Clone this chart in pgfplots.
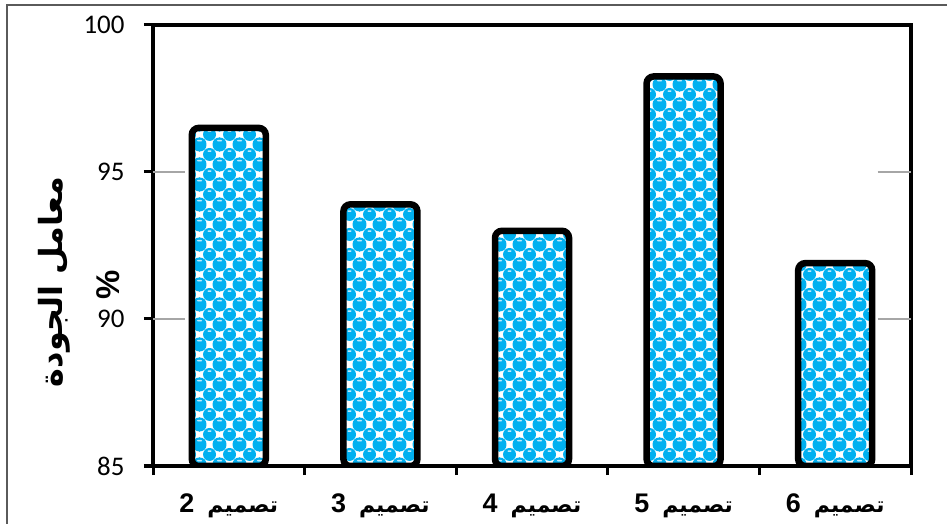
\documentclass[border=0pt]{standalone}
\usepackage{fontspec}
\usepackage{pgfplots}
\pgfplotsset{compat=1.18}
\usetikzlibrary{patterns}
\setmainfont{Carlito}
\newfontfamily\arabicfont[Script=Arabic]{DejaVu Sans}
\newfontfamily\latinbold{Liberation Sans}
\TeXXeTstate=1

\definecolor{dotblue}{RGB}{0,176,240}
\definecolor{dotshine}{RGB}{190,235,252}
\definecolor{gridgray}{RGB}{166,166,166}
\definecolor{framegray}{RGB}{90,90,90}

% staggered blue dots on white, 20bp period
\pgfdeclarepatterninherentlycolored{bluedots}
  {\pgfpointorigin}{\pgfpoint{20bp}{20bp}}{\pgfpoint{20bp}{20bp}}
  {
    \pgfsetfillcolor{white}
    \pgfpathrectangle{\pgfpointorigin}{\pgfpoint{20bp}{20bp}}
    \pgfusepath{fill}
    \pgfsetfillcolor{dotblue}
    \pgfpathcircle{\pgfpoint{10bp}{10bp}}{6.8bp}
    \pgfpathcircle{\pgfpoint{0bp}{0bp}}{6.8bp}
    \pgfpathcircle{\pgfpoint{20bp}{0bp}}{6.8bp}
    \pgfpathcircle{\pgfpoint{0bp}{20bp}}{6.8bp}
    \pgfpathcircle{\pgfpoint{20bp}{20bp}}{6.8bp}
    \pgfusepath{fill}
    \pgfsetfillcolor{dotshine}
    \pgfpathellipse{\pgfpoint{10bp}{13.5bp}}{\pgfpoint{2.2bp}{0bp}}{\pgfpoint{0bp}{0.9bp}}
    \pgfpathellipse{\pgfpoint{0bp}{3.5bp}}{\pgfpoint{2.2bp}{0bp}}{\pgfpoint{0bp}{0.9bp}}
    \pgfpathellipse{\pgfpoint{20bp}{3.5bp}}{\pgfpoint{2.2bp}{0bp}}{\pgfpoint{0bp}{0.9bp}}
    \pgfusepath{fill}
  }

\newcommand{\design}[1]{{\latinbold\bfseries\fontsize{27}{27}\selectfont #1}\hspace{13bp}{\arabicfont\bfseries\fontsize{22}{22}\selectfont\beginR تصميم\endR}}

\begin{document}
\begin{tikzpicture}
\useasboundingbox (0,0) rectangle (947bp,524bp);
% outer frame
\draw[framegray, line width=1.3bp] (7bp,-10bp) rectangle (960bp,519bp);

\begin{axis}[
  at={(153bp,58bp)}, anchor=south west,
  scale only axis, width=758bp, height=441bp,
  xmin=-0.5, xmax=4.5, ymin=85, ymax=100,
  ybar, bar width=74bp,
  axis line style={line width=3.5bp},
  xtick={-0.5,0.5,...,4.5},
  x tick label as interval,
  xticklabels={\design{2},\design{3},\design{4},\design{5},\design{6}},
  xticklabel style={yshift=-15bp},
  ytick={85,90,95,100},
  yticklabel style={font=\fontsize{27}{27}\selectfont, xshift=-16bp},
  /pgf/number format/assume math mode=true,
  tick style={black, line width=3bp},
  major tick length=9bp,
  tick align=outside,
  xtick pos=bottom, ytick pos=left,
]
% short grid stubs at both ends of the plot area
\draw[gridgray, line width=1.5bp] (axis cs:-0.5,95) -- (axis cs:-0.29,95);
\draw[gridgray, line width=1.5bp] (axis cs:-0.5,90) -- (axis cs:-0.29,90);
\draw[gridgray, line width=1.5bp] (axis cs:4.28,95) -- (axis cs:4.5,95);
\draw[gridgray, line width=1.5bp] (axis cs:4.28,90) -- (axis cs:4.5,90);

\addplot[draw=black, line width=6.5bp, pattern=bluedots, rounded corners=7bp]
  coordinates {(0,96.5) (1,93.9) (2,93.0) (3,98.25) (4,91.9)};
\end{axis}

\node[rotate=90] at (54bp,242bp)
  {\arabicfont\bfseries\fontsize{32}{32}\selectfont\beginR معامل الجودة\endR};
\node[rotate=90] at (108bp,239bp)
  {\latinbold\bfseries\fontsize{33}{33}\selectfont\%};
\end{tikzpicture}
\end{document}
